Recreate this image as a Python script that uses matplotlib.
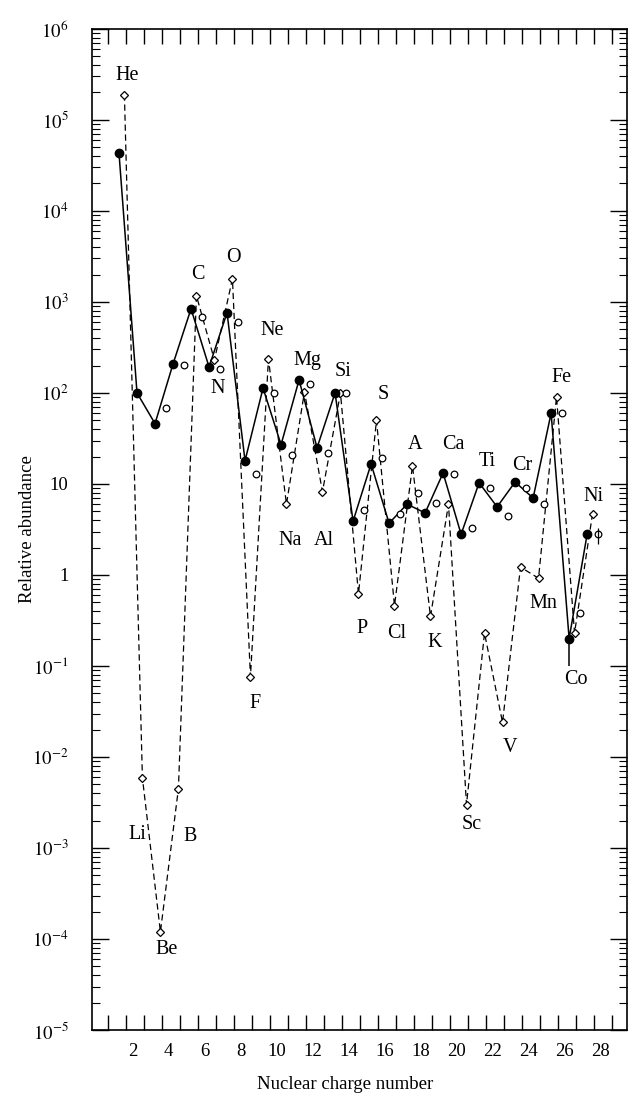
import numpy as np
import matplotlib.pyplot as plt
from matplotlib.ticker import FixedLocator, NullFormatter

plt.rcParams['font.family'] = ['Liberation Serif', 'DejaVu Serif']
plt.rcParams['mathtext.fontset'] = 'stix'

# nuclear charge and element names
Z = np.arange(2, 29)
elements = ['He', 'Li', 'Be', 'B', 'C', 'N', 'O', 'F', 'Ne', 'Na', 'Mg', 'Al', 'Si',
            'P', 'S', 'Cl', 'A', 'K', 'Ca', 'Sc', 'Ti', 'V', 'Cr', 'Mn', 'Fe', 'Co', 'Ni']

# cosmic rays, low energy (filled circles)
low_energy = [4.3e4, 100, 46, 208, 840, 193, 760, 18, 113, 27, 139, 25, 100,
              3.9, 16.6, 3.7, 6.0, 4.8, 13.2, 2.8, 10.3, 5.6, 10.5, 7.0, 60, 0.2, 2.8]
# cosmic rays, high energy (open circles)
high_energy = [np.nan, np.nan, 69, 204, 690, 183, 600, 13, 100, 21, 125, 22, 100,
               5.2, 19.4, 4.7, 8.0, 6.2, 12.9, 3.3, 9.0, 4.4, 9.0, 6.0, 60, 0.38, 2.8]
# solar system abundances (open diamonds)
solar = [1.9e5, 0.0059, 1.2e-4, 0.0045, 1170, 230, 1790, 0.076, 236, 6.0, 103, 8.2, 100,
         0.62, 50, 0.46, 15.8, 0.35, 6.0, 0.0030, 0.23, 0.024, 1.22, 0.92, 91, 0.23, 4.7]

# error bars (Co low energy, Ni high energy)
co_low_range = [0.1, 0.2]
ni_high_range = [2.2, 3.3]

# where the element names sit (x, y)
label_pos = {
    'He': (2.45, 3.1e5), 'Li': (3.0, 1.4e-3), 'Be': (4.65, 7.6e-5), 'B': (5.95, 1.35e-3),
    'C': (6.4, 2000), 'N': (7.5, 113), 'O': (8.35, 3100), 'F': (9.55, 0.039),
    'Ne': (10.5, 480), 'Na': (11.5, 2.4), 'Mg': (12.45, 230), 'Al': (13.35, 2.4),
    'Si': (14.45, 170), 'P': (15.5, 0.26), 'S': (16.65, 95), 'Cl': (17.45, 0.23),
    'A': (18.45, 27), 'K': (19.55, 0.18), 'Ca': (20.55, 27), 'Sc': (21.6, 0.0018),
    'Ti': (22.45, 17.5), 'V': (23.7, 0.0126), 'Cr': (24.4, 16), 'Mn': (25.55, 0.49),
    'Fe': (26.6, 146), 'Co': (27.35, 0.071), 'Ni': (28.35, 7.2),
}

fig = plt.figure(figsize=(6.28, 10.93), dpi=100)
ax = fig.add_axes([0.1465, 0.0576, 0.8515, 0.916])

ax.plot(Z + 0.3, solar, color='k', ls=(0, (5, 3)), lw=0.9,
        marker='D', ms=3.8, mfc='white', mec='k', mew=0.9)
ax.plot(Z, low_energy, color='k', ls='-', lw=1.1,
        marker='o', ms=6, mfc='k', mec='k')
ax.plot(Z + 0.6, high_energy, ls='none',
        marker='o', ms=4.8, mfc='white', mec='k', mew=0.9)

i_co = elements.index('Co')
i_ni = elements.index('Ni')
ax.vlines(Z[i_co], co_low_range[0], co_low_range[1], color='k', lw=1.1)
ax.vlines(Z[i_ni] + 0.6, ni_high_range[0], ni_high_range[1], color='k', lw=0.9)

for name in elements:
    x, y = label_pos[name]
    ax.text(x, y, name, ha='center', va='center', fontsize=14.5)

ax.set_yscale('log')
ax.set_ylim(1e-5, 1e6)
ax.set_xlim(0.5, 30.2)

decades = np.arange(-5, 7)
ax.set_yticks(10.0 ** decades)
ax.set_yticklabels([r'$10^{-5}$', r'$10^{-4}$', r'$10^{-3}$', r'$10^{-2}$', r'$10^{-1}$',
                    '1', '10', r'$10^{2}$', r'$10^{3}$', r'$10^{4}$', r'$10^{5}$', r'$10^{6}$'])
minor = [m * 10.0 ** e for e in decades[:-1] for m in range(2, 10)]
ax.yaxis.set_minor_locator(FixedLocator(minor))
ax.yaxis.set_minor_formatter(NullFormatter())

ax.set_xticks(np.arange(1, 30) + 0.4)
ax.set_xticklabels([])
xl = np.arange(2, 29, 2)
ax.set_xticks(xl + 0.75, minor=True)
ax.set_xticklabels([str(n) for n in xl], minor=True)

ax.tick_params(axis='both', which='both', direction='in', top=True, right=True)
ax.tick_params(axis='x', which='major', length=11, width=1)
ax.tick_params(axis='x', which='minor', length=0, labelsize=13.5, pad=9)
ax.tick_params(axis='y', which='major', length=12, width=1, labelsize=13.5, pad=17)
ax.tick_params(axis='y', which='minor', length=6, width=0.8)

for s in ax.spines.values():
    s.set_linewidth(1.2)

ax.set_xlabel('Nuclear charge number', fontsize=13.5)
ax.set_ylabel('Relative abundance', fontsize=13.5)
ax.xaxis.set_label_coords(0.473, -0.046)
ax.yaxis.set_label_coords(-0.105, 0.5)

plt.savefig('out.png', dpi=100)
